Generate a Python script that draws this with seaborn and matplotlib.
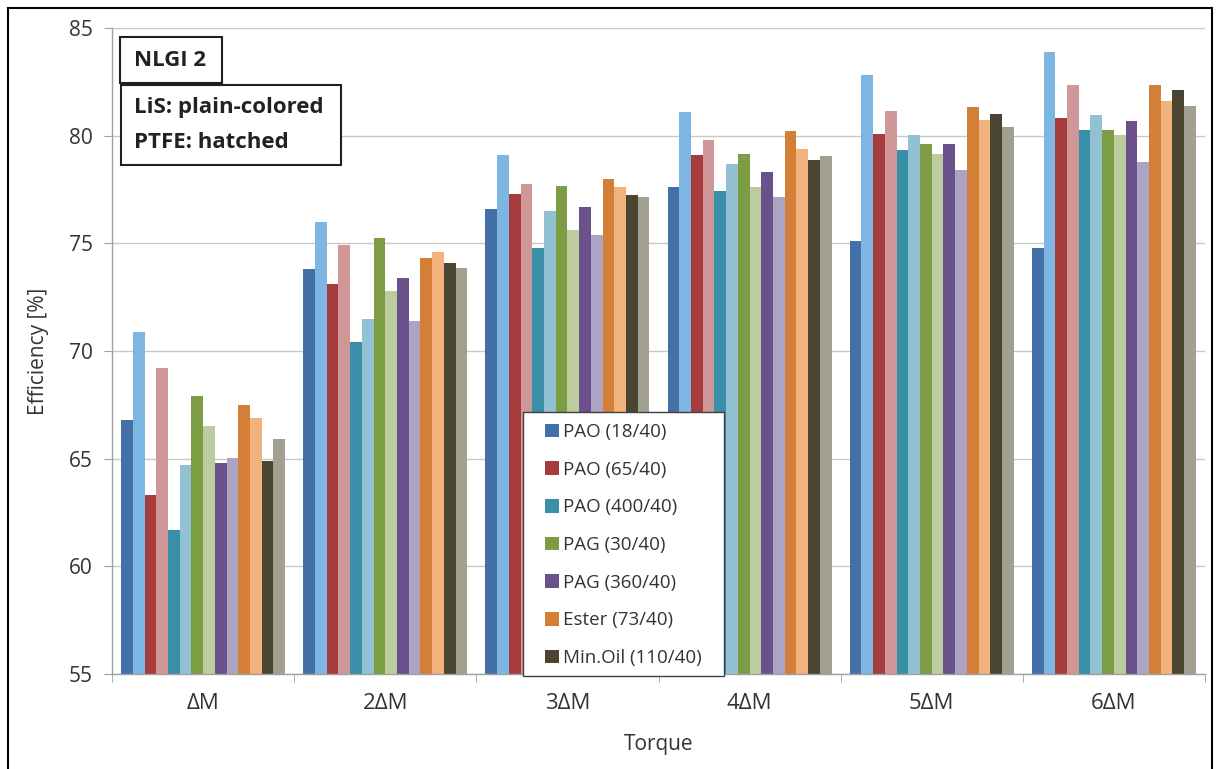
import numpy as np
import pandas as pd
import matplotlib
matplotlib.use("Agg")
import matplotlib.pyplot as plt
from matplotlib.patches import Rectangle, Patch
import seaborn as sns

torque = ["ΔM", "2ΔM", "3ΔM", "4ΔM", "5ΔM", "6ΔM"]
lubricants = ["PAO (18/40)", "PAO (65/40)", "PAO (400/40)", "PAG (30/40)",
              "PAG (360/40)", "Ester (73/40)", "Min.Oil (110/40)"]

# efficiency values [%] per torque level; LiS = plain, PTFE = hatched (light)
pao18_lis = [66.8, 73.8, 76.6, 77.6, 75.1, 74.8]
pao18_ptfe = [70.9, 76.0, 79.1, 81.1, 82.8, 83.9]
pao65_lis = [63.3, 73.1, 77.3, 79.1, 80.1, 80.8]
pao65_ptfe = [69.2, 74.9, 77.75, 79.8, 81.15, 82.35]
pao400_lis = [61.7, 70.4, 74.8, 77.45, 79.35, 80.25]
pao400_ptfe = [64.7, 71.5, 76.5, 78.7, 80.05, 80.95]
pag30_lis = [67.9, 75.25, 77.65, 79.15, 79.6, 80.25]
pag30_ptfe = [66.5, 72.8, 75.6, 77.6, 79.15, 80.05]
pag360_lis = [64.8, 73.4, 76.7, 78.3, 79.6, 80.7]
pag360_ptfe = [65.05, 71.4, 75.4, 77.15, 78.4, 78.8]
ester_lis = [67.5, 74.3, 78.0, 80.2, 81.35, 82.35]
ester_ptfe = [66.9, 74.6, 77.6, 79.4, 80.75, 81.6]
minoil_lis = [64.9, 74.1, 77.25, 78.85, 81.0, 82.1]
minoil_ptfe = [65.9, 73.85, 77.15, 79.05, 80.4, 81.4]

series_values = [pao18_lis, pao18_ptfe, pao65_lis, pao65_ptfe, pao400_lis, pao400_ptfe,
                 pag30_lis, pag30_ptfe, pag360_lis, pag360_ptfe, ester_lis, ester_ptfe,
                 minoil_lis, minoil_ptfe]
series_names = []
for lub in lubricants:
    series_names += [lub + " LiS", lub + " PTFE"]

lis_colors = ["#4470A8", "#A63C3E", "#3A8FA8", "#7D9D45", "#6A518C", "#D47F38", "#4A4530"]
ptfe_colors = ["#7DB5E3", "#D09799", "#93C1D4", "#BDCC9E", "#ADA3C2", "#F2B27E", "#A39F91"]
palette = []
for a, b in zip(lis_colors, ptfe_colors):
    palette += [a, b]

rows = []
for name, vals in zip(series_names, series_values):
    for t, v in zip(torque, vals):
        rows.append({"torque": t, "series": name, "eff": v})
df = pd.DataFrame(rows)

sns.set_style("white")
plt.rcParams["font.family"] = ["Open Sans", "DejaVu Sans"]
TXT = "#333333"

W, H = 1217, 769
fig = plt.figure(figsize=(W / 100, H / 100), dpi=100)
ax = fig.add_axes([112 / W, 1 - 674 / H, (1205 - 112) / W, (674 - 28) / H])

sns.barplot(data=df, x="torque", y="eff", hue="series", order=torque,
            hue_order=series_names, palette=palette, saturation=1, width=0.9,
            legend=False, ax=ax, errorbar=None, linewidth=0, edgecolor="none")

ax.set_ylim(55, 85)
ax.set_xlim(-0.5, 5.5)
ax.set_yticks(np.arange(55, 86, 5))
ax.yaxis.grid(True, color="#C8C8C8", linewidth=1)
ax.set_axisbelow(True)
for s in ["top", "right"]:
    ax.spines[s].set_visible(False)
for s in ["left", "bottom"]:
    ax.spines[s].set_color("#A0A0A0")
    ax.spines[s].set_linewidth(1)
ax.tick_params(axis="y", length=6, color="#A0A0A0", labelsize=15, pad=8, left=True,
               labelcolor=TXT)
ax.tick_params(axis="x", which="major", length=0, labelsize=16, pad=14, labelcolor=TXT)
ax.set_xticks(np.arange(-0.5, 6, 1), minor=True)
ax.tick_params(axis="x", which="minor", length=6, color="#A0A0A0", bottom=True)
ax.set_xlabel("Torque", fontsize=15, labelpad=14, color=TXT)
ax.set_ylabel("Efficiency [%]", fontsize=15, labelpad=14, color=TXT)

# legend box
ax.add_patch(Rectangle((523 / W, 1 - 676 / H), (724 - 523) / W, (676 - 412) / H,
                       transform=fig.transFigure, facecolor="white", edgecolor="#404040",
                       linewidth=1, zorder=4, clip_on=False))
handles = [Patch(facecolor=c, edgecolor="none") for c in lis_colors]
leg = ax.legend(handles, lubricants, loc="upper left",
                bbox_to_anchor=(545 / W, 1 - 423 / H), bbox_transform=fig.transFigure,
                borderaxespad=0, borderpad=0, fontsize=13.5, frameon=False,
                handlelength=0.75, handleheight=0.75, handletextpad=0.2,
                labelspacing=1.05, labelcolor=TXT)
leg.set_zorder(5)

# annotation boxes
fig.add_artist(Rectangle((120 / W, 1 - 83 / H), 102 / W, 46 / H, transform=fig.transFigure,
                         facecolor="white", edgecolor="#202020", linewidth=1.5, zorder=5))
fig.add_artist(Rectangle((121 / W, 1 - 165 / H), 220 / W, 80 / H, transform=fig.transFigure,
                         facecolor="white", edgecolor="#202020", linewidth=1.5, zorder=5))
fig.text(134 / W, 1 - 61 / H, "NLGI 2", fontsize=16, fontweight="bold", va="center",
         ha="left", zorder=6, color="#222222")
fig.text(134 / W, 1 - 108 / H, "LiS: plain-colored", fontsize=16, fontweight="bold",
         va="center", ha="left", zorder=6, color="#222222")
fig.text(134 / W, 1 - 143 / H, "PTFE: hatched", fontsize=16, fontweight="bold",
         va="center", ha="left", zorder=6, color="#222222")

# outer frame
fig.add_artist(Rectangle((8 / W, -0.05), (1212 - 8) / W, 1 - 8 / H + 0.05,
                         transform=fig.transFigure, facecolor="none",
                         edgecolor="black", linewidth=1.5))

fig.savefig("out.png", dpi=100)
